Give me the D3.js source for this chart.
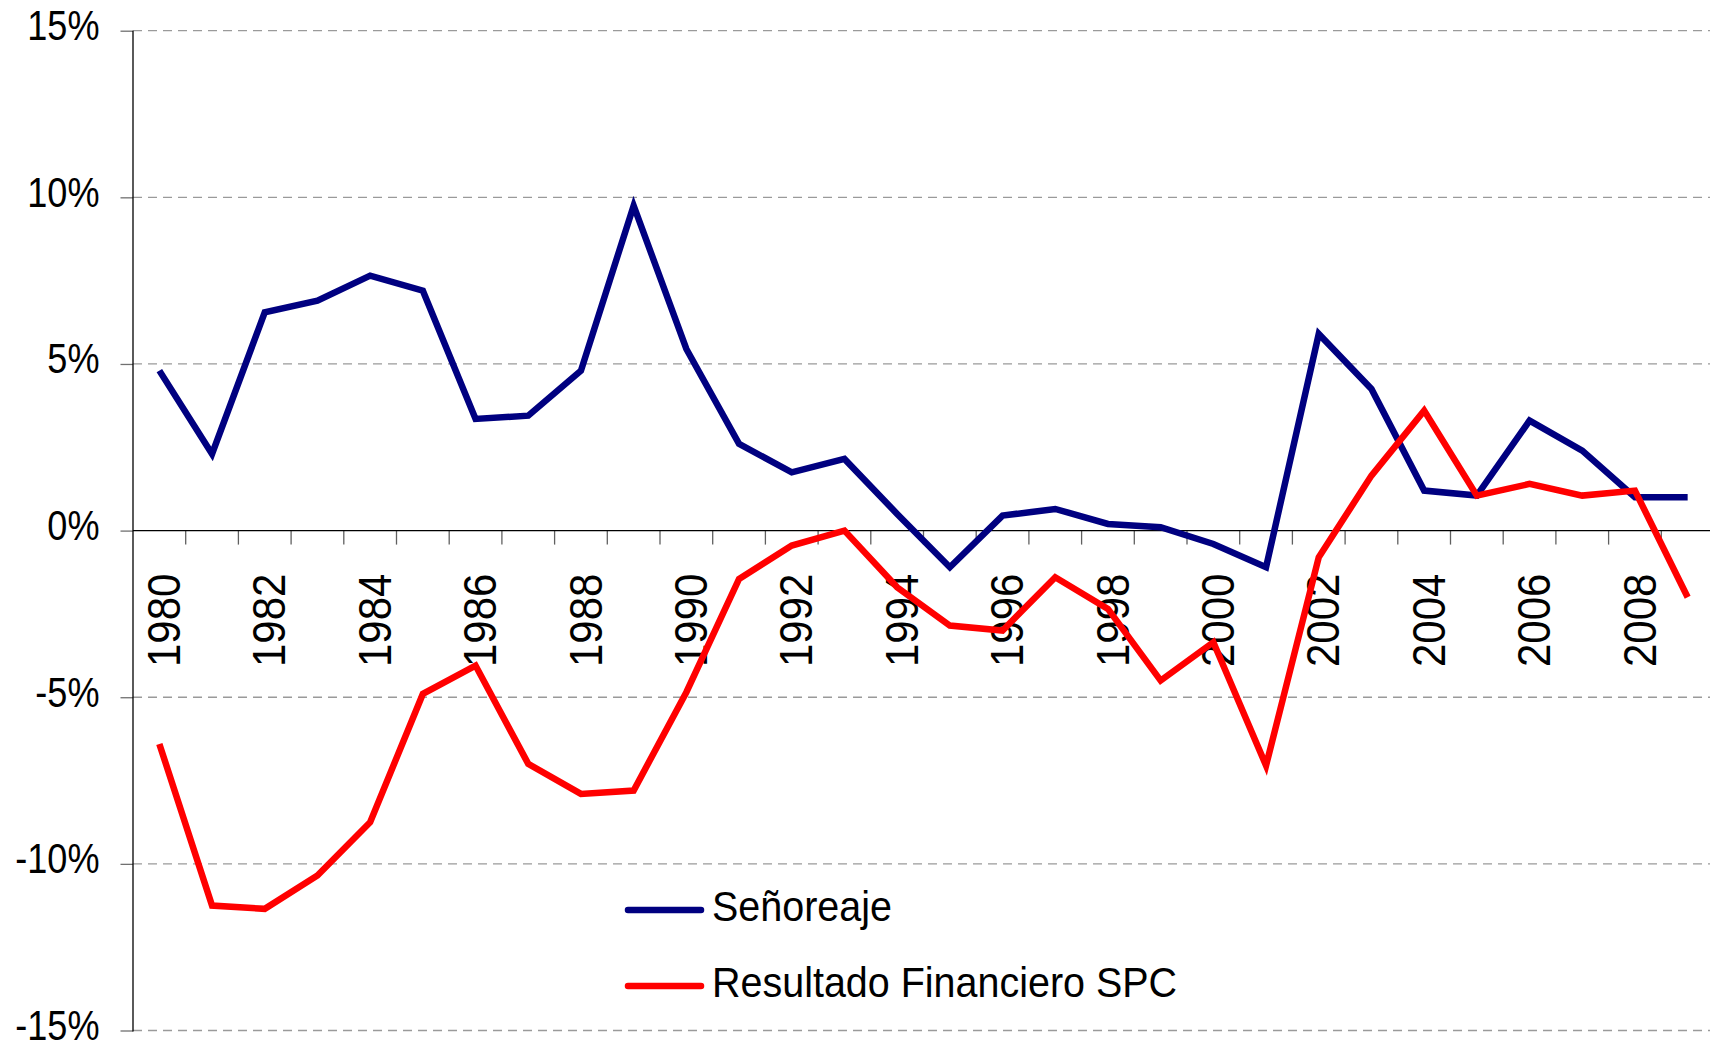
<!DOCTYPE html>
<html lang="es">
<head>
  <meta charset="UTF-8" />
  <title>Señoreaje y Resultado Financiero SPC</title>
  <script src="https://d3js.org/d3.v7.min.js"></script>
  <style>
    body {
      margin: 0;
      background: #ffffff;
    }
    svg {
      display: block;
      font-family: "Liberation Sans", Arial, sans-serif;
    }
  </style>
</head>
<body>
  <div id="chart"></div>

  <script>
    // years on the x axis
    const years = d3.range(1980, 2010);
    const yTicks = [-15, -10, -5, 0, 5, 10, 15];

    // values in percent
    const senoreaje = [4.8, 2.3, 6.55, 6.9, 7.65, 7.2, 3.35, 3.45, 4.8, 9.75,
      5.45, 2.6, 1.75, 2.15, 0.5, -1.1, 0.45, 0.65, 0.2, 0.1,
      -0.4, -1.1, 5.9, 4.25, 1.2, 1.05, 3.3, 2.4, 1.0, 1.0];
    const resultadoSPC = [-6.4, -11.25, -11.35, -10.35, -8.75, -4.9, -4.05, -7.0, -7.9, -7.8,
      -4.85, -1.45, -0.45, 0.0, -1.7, -2.85, -3.0, -1.4, -2.35, -4.5,
      -3.35, -7.05, -0.8, 1.65, 3.6, 1.05, 1.4, 1.05, 1.2, -2.0];

    const series = [
      { name: "Señoreaje", values: senoreaje, color: "#000080" },
      { name: "Resultado Financiero SPC", values: resultadoSPC, color: "#ff0000" }
    ];

    const width = 1710, height = 1048;
    const plotLeft = 133, plotRight = 1714, plotTop = 30.7, plotBottom = 1030.5;

    const svg = d3.select("#chart").append("svg")
      .attr("width", width)
      .attr("height", height);

    const x = d3.scaleBand()
      .domain(years)
      .range([plotLeft, plotRight]);

    const y = d3.scaleLinear()
      .domain([-15, 15])
      .range([plotBottom, plotTop]);

    // dashed gridlines
    svg.append("g")
      .selectAll("line")
      .data(yTicks.filter(d => d !== 0))
      .join("line")
      .attr("x1", plotLeft)
      .attr("x2", width)
      .attr("y1", d => y(d))
      .attr("y2", d => y(d))
      .attr("stroke", "#9a9a9a")
      .attr("stroke-width", 1.3)
      .attr("stroke-dasharray", "9,6");

    // y axis with small ticks on the left
    const yAxis = svg.append("g")
      .attr("transform", `translate(${plotLeft},0)`)
      .call(d3.axisLeft(y).tickValues(yTicks).tickSize(12.5).tickFormat(""));
    yAxis.select(".domain").remove();
    yAxis.selectAll(".tick line").attr("stroke", "#707070").attr("stroke-width", 1.3);

    svg.append("line")
      .attr("x1", plotLeft).attr("x2", plotLeft)
      .attr("y1", plotTop).attr("y2", plotBottom + 1)
      .attr("stroke", "#000").attr("stroke-width", 1.3);

    svg.append("g")
      .selectAll("text")
      .data(yTicks)
      .join("text")
      .attr("transform", d => `translate(99.5,${y(d) + 9.5}) scale(0.84,1)`)
      .attr("text-anchor", "end")
      .attr("font-size", 43)
      .attr("fill", "#000")
      .text(d => d + "%");

    // x axis along zero, ticks on category boundaries
    const zeroY = y(0);

    svg.append("g")
      .selectAll("line")
      .data(years.slice(1))
      .join("line")
      .attr("x1", d => x(d))
      .attr("x2", d => x(d))
      .attr("y1", zeroY)
      .attr("y2", zeroY + 14)
      .attr("stroke", "#606060")
      .attr("stroke-width", 1.3);

    svg.append("line")
      .attr("x1", plotLeft).attr("x2", width)
      .attr("y1", zeroY).attr("y2", zeroY)
      .attr("stroke", "#000").attr("stroke-width", 1.3);

    // rotated year labels, every second year
    svg.append("g")
      .selectAll("text")
      .data(years.filter(d => d % 2 === 0))
      .join("text")
      .attr("transform", d => `translate(${x(d) + x.bandwidth() / 2 + 4},${zeroY + 43}) scale(1.1,1) rotate(-90)`)
      .attr("text-anchor", "end")
      .attr("dy", "0.36em")
      .attr("font-size", 42)
      .attr("fill", "#000")
      .text(d => d);

    // series lines
    const line = d3.line()
      .x((d, i) => x(years[i]) + x.bandwidth() / 2)
      .y(d => y(d));

    svg.append("g")
      .selectAll("path")
      .data(series)
      .join("path")
      .attr("d", d => line(d.values))
      .attr("fill", "none")
      .attr("stroke", d => d.color)
      .attr("stroke-width", 6.5)
      .attr("stroke-linejoin", "miter")
      .attr("stroke-linecap", "butt");

    // legend
    const legend = svg.append("g")
      .selectAll("g")
      .data(series)
      .join("g")
      .attr("transform", (d, i) => `translate(628,${910 + i * 76})`);

    legend.append("line")
      .attr("x1", 0).attr("x2", 73)
      .attr("y1", 0).attr("y2", 0)
      .attr("stroke", d => d.color)
      .attr("stroke-width", 6.5)
      .attr("stroke-linecap", "round");

    legend.append("text")
      .attr("transform", "translate(84,10.5) scale(0.94,1)")
      .attr("font-size", 42)
      .attr("fill", "#000")
      .text(d => d.name);
  </script>
</body>
</html>
